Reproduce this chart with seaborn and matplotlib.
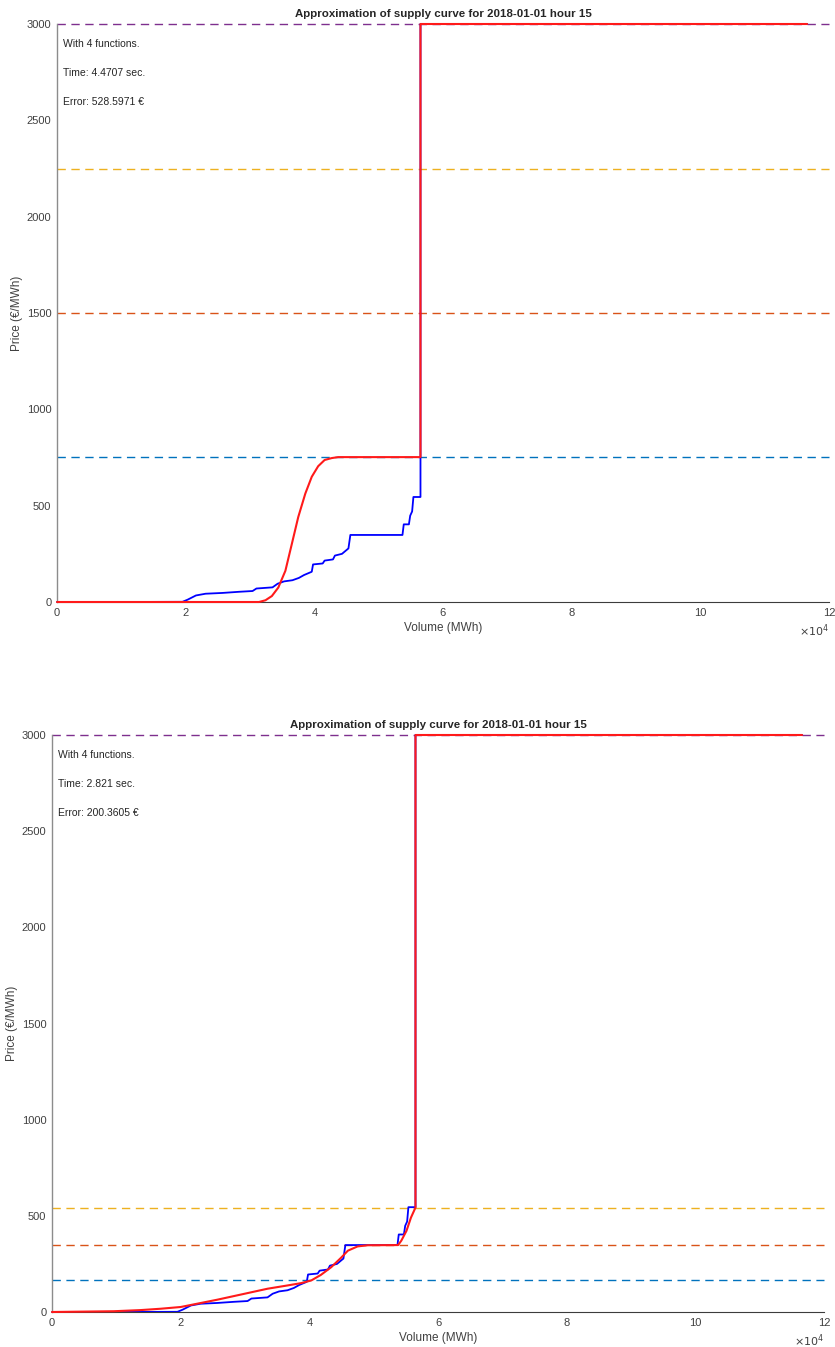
import numpy as np
import pandas as pd
import matplotlib
matplotlib.use('Agg')
import matplotlib.pyplot as plt
import seaborn as sns

# supply curve (blue, step-like), same for both panels
supply_x = [0, 9600, 19500, 20300, 21600, 23100, 25700, 28300, 30400, 31000, 33500,
            34300, 35300, 36600, 37600, 38400, 39600, 39800, 41300, 41600, 42900,
            43200, 44300, 45300, 45600, 53700, 53900, 54700, 54900, 55200, 55400,
            56500, 56500, 116600]
supply_y = [0, 0, 1, 12, 34, 43, 47, 53, 57, 70, 76,
            95, 107, 113, 125, 140, 157, 195, 200, 215, 221,
            241, 250, 278, 348, 348, 403, 403, 448, 470, 545,
            545, 3000, 3000]

# approximation, panel 1
approx1_x = [0, 31400, 32400, 33400, 34400, 35500, 36500, 37500, 38600, 39600, 40600,
             41600, 42700, 43700, 45200, 56500, 56500, 116600]
approx1_y = [0, 0, 9, 31, 75, 162, 301, 441, 563, 650, 705,
             737, 747, 752, 752, 752, 3000, 3000]

# approximation, panel 2
approx2_x = [0, 9600, 13800, 16900, 20000, 22100, 25700, 29400, 33500, 36600, 38700,
             40300, 41800, 43400, 44900, 46000, 47500, 49100, 53800, 54300, 55100,
             55800, 56500, 56500, 116600]
approx2_y = [0, 4, 10, 17, 26, 40, 64, 91, 121, 138, 150,
             164, 193, 233, 281, 319, 341, 347, 348, 371, 422,
             491, 543, 3000, 3000]

levels1 = [752, 1500, 2250, 3000]
levels2 = [167, 348, 543, 3000]
level_colors = ['#0072BD', '#D95319', '#EDB120', '#7E2F8E']

title = 'Approximation of supply curve for 2018-01-01 hour 15'
info1 = ['With 4 functions.', 'Time: 4.4707 sec.', 'Error: 528.5971 €']
info2 = ['With 4 functions.', 'Time: 2.821 sec.', 'Error: 200.3605 €']

xticks = [0, 20000, 40000, 60000, 80000, 100000, 120000]
xticklabels = ['0', '2', '4', '6', '8', '10', '12']
yticks = [0, 500, 1000, 1500, 2000, 2500, 3000]

sns.set_theme(style='white')
plt.rcParams['font.family'] = ['Liberation Sans', 'DejaVu Sans']

fig = plt.figure(figsize=(8.35, 13.47), dpi=100)
ax1 = fig.add_axes([57 / 835, 1 - 602 / 1347, (829 - 57) / 835, 578 / 1347])
ax2 = fig.add_axes([52 / 835, 1 - 1312 / 1347, (824 - 52) / 835, 577 / 1347])

panels = [(ax1, approx1_x, approx1_y, levels1, info1),
          (ax2, approx2_x, approx2_y, levels2, info2)]

for ax, ax_x, ax_y, levels, info in panels:
    for lv, c in zip(levels, level_colors):
        ax.axhline(lv, color=c, linestyle=(0, (6, 4)), linewidth=1.0, zorder=1,
                   clip_on=False)

    sup = pd.DataFrame({'x': supply_x, 'y': supply_y})
    sns.lineplot(data=sup, x='x', y='y', ax=ax, color='#0000FF', linewidth=1.3,
                 estimator=None, sort=False, zorder=2, clip_on=False)
    app = pd.DataFrame({'x': ax_x, 'y': ax_y})
    sns.lineplot(data=app, x='x', y='y', ax=ax, color='#FF1A1A', linewidth=1.5,
                 estimator=None, sort=False, zorder=3, clip_on=False)

    ax.set_xlim(0, 120000)
    ax.set_ylim(0, 3000)
    ax.set_xticks(xticks)
    ax.set_xticklabels(xticklabels)
    ax.set_yticks(yticks)
    ax.tick_params(direction='in', length=4, width=0.8, colors='#262626',
                   labelsize=8, labelcolor='#404040', pad=4)
    ax.spines['top'].set_visible(False)
    ax.spines['right'].set_visible(False)
    ax.spines['left'].set_color('#8c8c8c')
    ax.spines['bottom'].set_color('#3c3c3c')
    ax.spines['left'].set_linewidth(1.0)
    ax.spines['bottom'].set_linewidth(0.8)
    ax.set_xlabel('Volume (MWh)', fontsize=8.5, color='#404040', labelpad=3)
    ax.set_ylabel('Price (€/MWh)', fontsize=8.5, color='#404040', labelpad=3)
    ax.set_title(title, fontsize=8.25, fontweight='bold', pad=5)
    ax.text(1.0, -0.05, r'$\times10^{4}$', transform=ax.transAxes, ha='right',
            va='center', fontsize=8, color='#404040')
    for k, t in enumerate(info):
        ax.text(0.008, 0.965 - 0.05 * k, t, transform=ax.transAxes, ha='left',
                va='center', fontsize=7.5, color='#262626')

fig.savefig('out.png', dpi=100, facecolor='white')
